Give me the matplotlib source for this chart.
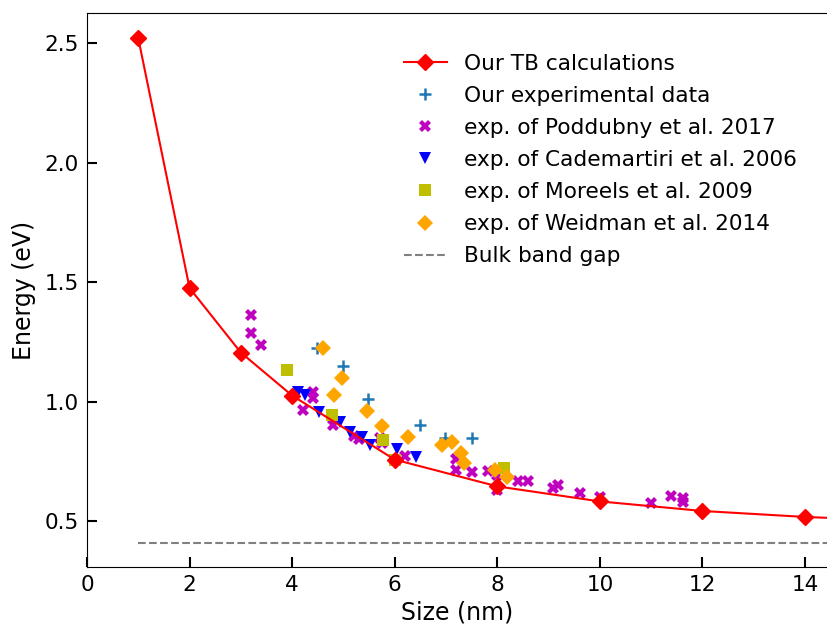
import matplotlib
matplotlib.use("Agg")
import matplotlib.pyplot as plt

# TB calculations (last point lies just beyond the visible x range)
tb_size = [1, 2, 3, 4, 6, 8, 10, 12, 14, 16]
tb_energy = [2.52, 1.475, 1.205, 1.025, 0.757, 0.645, 0.582, 0.542, 0.517, 0.50]

# our experimental data
our_size = [4.48, 4.99, 5.48, 6.49, 6.98, 7.50]
our_energy = [1.224, 1.149, 1.012, 0.902, 0.847, 0.847]

# Poddubny et al. 2017
pod_size = [3.20, 3.20, 3.39, 4.40, 4.40, 4.21, 4.80, 5.20, 5.30, 5.71, 5.75,
            6.20, 7.19, 7.19, 7.50, 7.82, 7.99, 8.00, 8.40, 8.60, 9.08, 9.18,
            9.61, 10.00, 11.00, 11.38, 11.62, 11.62]
pod_energy = [1.362, 1.287, 1.236, 1.040, 1.015, 0.965, 0.900, 0.855, 0.845,
              0.847, 0.826, 0.773, 0.760, 0.713, 0.705, 0.710, 0.692, 0.630,
              0.667, 0.667, 0.638, 0.650, 0.617, 0.600, 0.575, 0.603, 0.598,
              0.578]

# Cademartiri et al. 2006
cad_size = [4.12, 4.25, 4.52, 4.93, 5.13, 5.36, 5.52, 6.04, 6.41]
cad_energy = [1.040, 1.027, 0.956, 0.914, 0.872, 0.851, 0.818, 0.800, 0.768]

# Moreels et al. 2009
mor_size = [3.90, 4.78, 5.77, 6.00, 8.13]
mor_energy = [1.132, 0.943, 0.840, 0.755, 0.722]

# Weidman et al. 2014
wei_size = [4.60, 4.97, 4.81, 5.46, 5.75, 6.26, 6.92, 7.12, 7.29, 7.35, 7.95, 8.19]
wei_energy = [1.226, 1.100, 1.027, 0.960, 0.897, 0.852, 0.818, 0.830, 0.785,
              0.742, 0.713, 0.685]

# bulk band gap
bulk_size = [1, 16]
bulk_energy = [0.41, 0.41]

fig = plt.figure(figsize=(8.27, 6.25), dpi=100)
ax = fig.add_axes([87 / 827, 1 - 567 / 625, 740 / 827, 554 / 625])

ax.plot(tb_size, tb_energy, 'r-', marker='D', ms=8, lw=1.5,
        label="Our TB calculations", zorder=5)
ax.plot(our_size, our_energy, '+', color='tab:blue', ms=9, mew=1.8,
        label="Our experimental data")
ax.plot(pod_size, pod_energy, 'X', color='m', ms=8, mew=0,
        label="exp. of Poddubny et al. 2017")
ax.plot(cad_size, cad_energy, 'v', color='b', ms=8, mew=0,
        label="exp. of Cademartiri et al. 2006")
ax.plot(mor_size, mor_energy, 's', color='y', ms=8, mew=0,
        label="exp. of Moreels et al. 2009")
ax.plot(wei_size, wei_energy, 'D', color='orange', ms=8, mew=0,
        label="exp. of Weidman et al. 2014")
ax.plot(bulk_size, bulk_energy, '--', color='gray', lw=1.5,
        label="Bulk band gap")

ax.set_xlim(0, 14.43)
ax.set_ylim(0.3075, 2.626)
ax.set_xticks(range(0, 15, 2))
ax.set_yticks([0.5, 1.0, 1.5, 2.0, 2.5])
ax.tick_params(direction='in', length=7, width=1.5, labelsize=15.5, pad=6)
ax.spines['right'].set_visible(False)
ax.set_xlabel("Size (nm)", fontsize=17)
ax.set_ylabel("Energy (eV)", fontsize=17, labelpad=6)

ax.legend(loc='upper left', bbox_to_anchor=(384 / 827, 1 - 34 / 625),
          bbox_transform=fig.transFigure, frameon=False, fontsize=15.6,
          labelspacing=0.56)

fig.savefig("out.png", dpi=100)
